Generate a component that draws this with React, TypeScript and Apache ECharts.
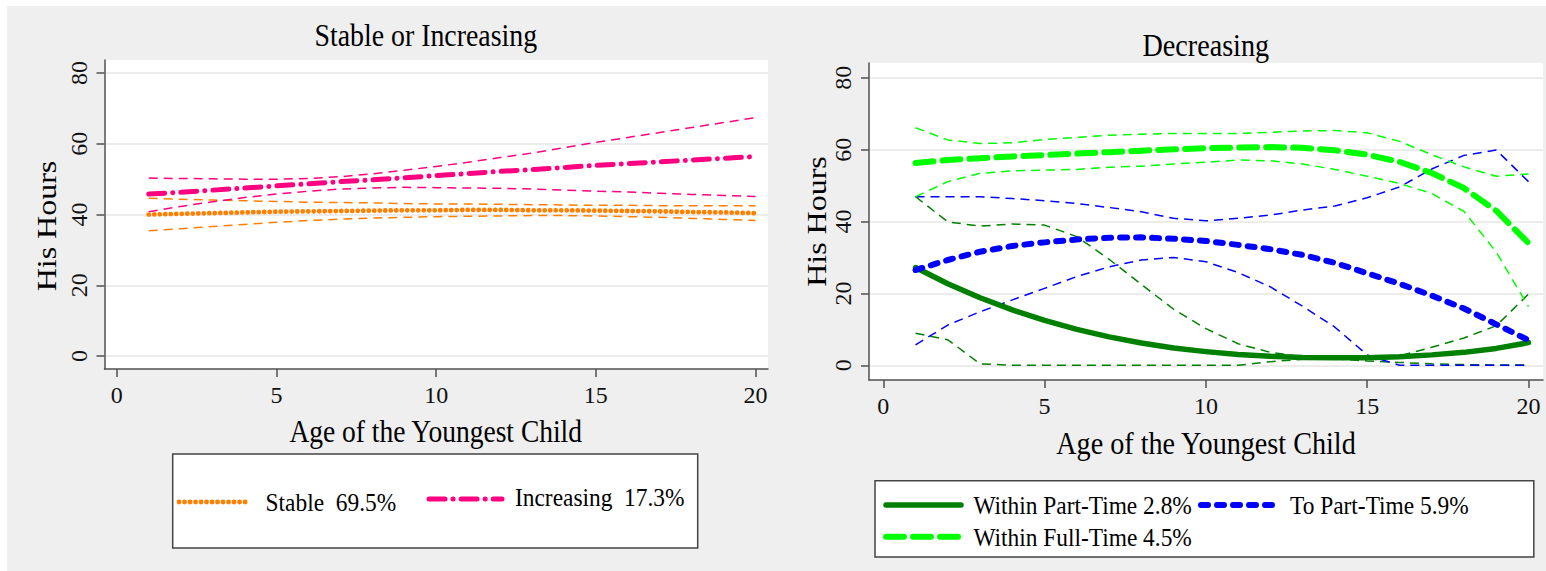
import React, { useEffect, useRef } from "react";
import * as echarts from "echarts";

// ---------- data ----------
const AGES = [1, 2, 3, 4, 5, 6, 7, 8, 9, 10, 11, 12, 13, 14, 15, 16, 17, 18, 19, 20];
const X_TICKS = [0, 5, 10, 15, 20];
const Y_TICKS = [0, 20, 40, 60, 80];

// Left panel: Stable or Increasing
const STABLE = [40.0, 40.2, 40.4, 40.6, 40.8, 40.9, 41.0, 41.1, 41.2, 41.2, 41.3, 41.3, 41.2, 41.2, 41.1, 41.0, 40.9, 40.7, 40.6, 40.4];
const STABLE_HI = [44.6, 44.3, 44.1, 43.9, 43.7, 43.5, 43.4, 43.3, 43.1, 43.0, 43.0, 42.9, 42.8, 42.7, 42.6, 42.6, 42.5, 42.5, 42.5, 42.5];
const STABLE_LO = [35.4, 36.0, 36.6, 37.2, 37.8, 38.3, 38.7, 39.0, 39.2, 39.4, 39.5, 39.6, 39.7, 39.7, 39.6, 39.4, 39.2, 38.9, 38.6, 38.3];
const INCR = [45.8, 46.3, 46.9, 47.5, 48.1, 48.7, 49.3, 49.8, 50.4, 51.0, 51.6, 52.2, 52.7, 53.3, 53.9, 54.4, 54.9, 55.4, 55.9, 56.4];
const INCR_HI = [50.3, 50.2, 50.1, 50.0, 50.0, 50.2, 50.7, 51.5, 52.5, 53.6, 54.8, 56.1, 57.4, 58.9, 60.4, 61.8, 63.2, 64.6, 66.0, 67.4];
const INCR_LO = [40.8, 42.3, 43.6, 44.8, 45.8, 46.6, 47.2, 47.5, 47.7, 47.6, 47.5, 47.4, 47.2, 46.9, 46.6, 46.4, 46.0, 45.7, 45.4, 45.1];

// Right panel: Decreasing
const WPT = [27.2, 22.7, 18.8, 15.4, 12.5, 10.0, 7.9, 6.2, 4.8, 3.8, 3.0, 2.5, 2.2, 2.1, 2.1, 2.4, 2.9, 3.6, 4.7, 6.3];
const WPT_HI = [46.9, 39.9, 38.7, 39.3, 39.0, 35.8, 29.5, 22.5, 15.6, 10.2, 6.0, 3.6, 2.4, 1.8, 1.2, 0.8, 0.4, 0.2, 0.1, 0.1];
const WPT_LO = [8.9, 7.1, 0.4, 0, 0, 0, 0, 0, 0, 0, 0, 1.0, 1.7, 2.2, 2.3, 2.6, 5.0, 7.6, 11.0, 19.8];
const WFT = [56.3, 57.1, 57.6, 58.1, 58.5, 58.9, 59.3, 59.7, 60.1, 60.4, 60.6, 60.7, 60.5, 59.8, 58.6, 56.6, 53.5, 49.3, 43.0, 34.0];
const WFT_HI = [66.1, 62.7, 61.7, 61.9, 62.8, 63.4, 64.0, 64.3, 64.5, 64.5, 64.5, 64.8, 65.2, 65.3, 64.7, 62.3, 58.6, 55.2, 52.6, 53.2];
const WFT_LO = [46.9, 51.1, 53.4, 54.1, 54.3, 54.5, 55.1, 55.4, 56.0, 56.5, 57.1, 56.9, 56.0, 54.5, 52.6, 50.6, 47.8, 42.8, 31.5, 16.3];
const TPT = [26.5, 29.3, 31.6, 33.2, 34.2, 35.0, 35.5, 35.6, 35.2, 34.6, 33.5, 32.3, 30.7, 28.5, 25.6, 22.7, 19.4, 15.8, 11.4, 7.0];
const TPT_HI = [46.9, 46.9, 46.9, 46.4, 45.8, 45.0, 43.9, 42.7, 40.9, 40.2, 40.9, 41.8, 43.2, 44.3, 46.6, 49.6, 54.6, 58.4, 59.9, 51.1];
const TPT_LO = [5.7, 11.2, 14.9, 18.2, 21.4, 24.7, 27.4, 29.3, 30.0, 28.8, 25.8, 21.8, 16.4, 10.6, 2.9, 0, 0, 0, 0, 0];

const TITLE_LEFT = "Stable or Increasing";
const TITLE_RIGHT = "Decreasing";
const X_TITLE = "Age of the Youngest Child";
const Y_TITLE = "His Hours";
const LEG_LEFT = ["Stable  69.5%", "Increasing  17.3%"];
const LEG_RIGHT = ["Within Part-Time 2.8%", "To Part-Time 5.9%", "Within Full-Time 4.5%"];

// ---------- styles ----------
const FONT = '"Liberation Serif", "Times New Roman", serif';
const AXIS_COLOR = "#505050";
const ORANGE = "#ff8000";
const PINK = "#ff0080";
const DGREEN = "#008000";
const BLUE = "#0000ff";
const LGREEN = "#00ff00";

const DOT = [0.1, 5.4];
const DASHDOT = [16, 8, 0.1, 8];
const BLUE_DASH = [7, 9];
const LGREEN_DASH = [18, 9];
const CI_DASH = [9, 6];

const pts = (vals: number[]) => AGES.map((a, i) => [a, vals[i]]);

function lineSeries(name: string, vals: number[], gi: number, color: string, width: number, dash: any, cap: string, z: number) {
  return {
    name,
    type: "line",
    xAxisIndex: gi,
    yAxisIndex: gi,
    data: pts(vals),
    symbol: "none",
    showSymbol: false,
    smooth: false,
    z,
    silent: true,
    lineStyle: { color, width, type: dash, cap, join: "round" },
  };
}

function xAxisCfg(gi: number, min: number, max: number) {
  return {
    type: "value",
    gridIndex: gi,
    min,
    max,
    axisLine: { show: true, onZero: false, lineStyle: { color: AXIS_COLOR, width: 1.5 } },
    axisTick: { show: true, length: 8, customValues: X_TICKS, lineStyle: { color: AXIS_COLOR, width: 1.5 } },
    axisLabel: { customValues: X_TICKS, fontSize: 24, fontFamily: FONT, color: "#111", margin: 14 },
    splitLine: { show: false },
  };
}

function yAxisCfg(gi: number, min: number, max: number) {
  return {
    type: "value",
    gridIndex: gi,
    min,
    max,
    axisLine: { show: true, onZero: false, lineStyle: { color: AXIS_COLOR, width: 1.5 } },
    axisTick: { show: true, length: 8, customValues: Y_TICKS, lineStyle: { color: AXIS_COLOR, width: 1.5 } },
    axisLabel: { customValues: Y_TICKS, rotate: 90, fontSize: 24, fontFamily: FONT, color: "#111", margin: 14 },
    splitLine: { show: true, lineStyle: { color: "#e6e6e6", width: 1.5 } },
  };
}

function txt(text: string, x: number, y: number, size: number, opts: any = {}) {
  return {
    type: "text",
    x,
    y,
    z: 100,
    silent: true,
    scaleX: opts.scaleX ?? 1,
    scaleY: opts.scaleY ?? 1,
    rotation: opts.rotation ?? 0,
    style: {
      text,
      fontSize: size,
      fontFamily: FONT,
      fill: "#000",
      align: opts.align ?? "center",
      verticalAlign: "middle",
    },
  };
}

function sample(x1: number, x2: number, y: number, color: string, width: number, dash: any, cap: string) {
  return {
    type: "line",
    z: 101,
    silent: true,
    shape: { x1, y1: y, x2, y2: y },
    style: { stroke: color, lineWidth: width, lineDash: dash, lineCap: cap },
  };
}

export default function App() {
  const ref = useRef<HTMLDivElement>(null);

  useEffect(() => {
    if (!ref.current) return;
    const chart = echarts.init(ref.current, null, { renderer: "svg" });
    const option: any = {
      animation: false,
      backgroundColor: "#efefef",
      grid: [
        { left: 104.5, top: 60, width: 663.5, height: 309, show: true, backgroundColor: "#fff", borderWidth: 0, containLabel: false, outerBoundsMode: "none" },
        { left: 869, top: 63, width: 674, height: 317, show: true, backgroundColor: "#fff", borderWidth: 0, containLabel: false, outerBoundsMode: "none" },
      ],
      xAxis: [xAxisCfg(0, -0.385, 20.39), xAxisCfg(1, -0.443, 20.45)],
      yAxis: [yAxisCfg(0, -3.68, 83.7), yAxisCfg(1, -4.09, 84.1)],
      series: [
        lineSeries("Stable upper", STABLE_HI, 0, ORANGE, 1.5, CI_DASH, "butt", 2),
        lineSeries("Stable lower", STABLE_LO, 0, ORANGE, 1.5, CI_DASH, "butt", 2),
        lineSeries("Increasing upper", INCR_HI, 0, PINK, 1.5, CI_DASH, "butt", 2),
        lineSeries("Increasing lower", INCR_LO, 0, PINK, 1.5, CI_DASH, "butt", 2),
        lineSeries("Stable", STABLE, 0, ORANGE, 4.8, DOT, "round", 3),
        lineSeries("Increasing", INCR, 0, PINK, 5, DASHDOT, "round", 3),

        lineSeries("Within Part-Time upper", WPT_HI, 1, DGREEN, 1.5, CI_DASH, "butt", 2),
        lineSeries("Within Part-Time lower", WPT_LO, 1, DGREEN, 1.5, CI_DASH, "butt", 2),
        lineSeries("To Part-Time upper", TPT_HI, 1, BLUE, 1.5, CI_DASH, "butt", 2),
        lineSeries("To Part-Time lower", TPT_LO, 1, BLUE, 1.5, CI_DASH, "butt", 2),
        lineSeries("Within Full-Time upper", WFT_HI, 1, LGREEN, 1.5, CI_DASH, "butt", 2),
        lineSeries("Within Full-Time lower", WFT_LO, 1, LGREEN, 1.5, CI_DASH, "butt", 2),
        lineSeries("Within Part-Time", WPT, 1, DGREEN, 5.5, "solid", "round", 3),
        lineSeries("To Part-Time", TPT, 1, BLUE, 6, BLUE_DASH, "round", 3),
        lineSeries("Within Full-Time", WFT, 1, LGREEN, 6, LGREEN_DASH, "round", 3),
      ],
      graphic: [
        { type: "rect", z: 0, silent: true, shape: { x: 0, y: 0, width: 1546, height: 6 }, style: { fill: "#fff" } },
        { type: "rect", z: 0, silent: true, shape: { x: 0, y: 0, width: 7, height: 571 }, style: { fill: "#fff" } },

        txt(TITLE_LEFT, 425.8, 35.2, 32, { scaleX: 0.87 }),
        txt(TITLE_RIGHT, 1205.8, 45.2, 32, { scaleX: 0.88 }),
        txt(X_TITLE, 435.7, 430.6, 32, { scaleX: 0.86 }),
        txt(X_TITLE, 1206, 443, 32, { scaleX: 0.88 }),
        txt(Y_TITLE, 46.7, 226, 32, { rotation: Math.PI / 2, scaleY: 0.87 }),
        txt(Y_TITLE, 816.7, 221.5, 32, { rotation: Math.PI / 2, scaleY: 0.87 }),

        // left legend
        { type: "rect", z: 99, silent: true, shape: { x: 172.7, y: 454, width: 525, height: 94 }, style: { fill: "#fff", stroke: "#444", lineWidth: 1.5 } },
        sample(179, 248, 502, ORANGE, 4.8, DOT, "round"),
        txt(LEG_LEFT[0], 265.6, 501.9, 26, { align: "left", scaleX: 0.9 }),
        sample(429, 502, 499, PINK, 5, DASHDOT, "round"),
        txt(LEG_LEFT[1], 515, 497, 26, { align: "left", scaleX: 0.9 }),

        // right legend
        { type: "rect", z: 99, silent: true, shape: { x: 875, y: 480.7, width: 658.8, height: 76.3 }, style: { fill: "#fff", stroke: "#444", lineWidth: 1.5 } },
        sample(886, 961, 505, DGREEN, 5.5, null, "round"),
        txt(LEG_RIGHT[0], 973.4, 505.2, 26, { align: "left", scaleX: 0.9 }),
        sample(1201, 1277, 505, BLUE, 6, BLUE_DASH, "round"),
        txt(LEG_RIGHT[1], 1290, 505.2, 26, { align: "left", scaleX: 0.9 }),
        sample(886, 961, 536.7, LGREEN, 6, LGREEN_DASH, "round"),
        txt(LEG_RIGHT[2], 973.4, 536.9, 26, { align: "left", scaleX: 0.9 }),
      ],
    };
    chart.setOption(option);
    return () => chart.dispose();
  }, []);

  return <div ref={ref} style={{ position: "fixed", left: 0, top: 0, width: 1546, height: 571 }} />;
}
